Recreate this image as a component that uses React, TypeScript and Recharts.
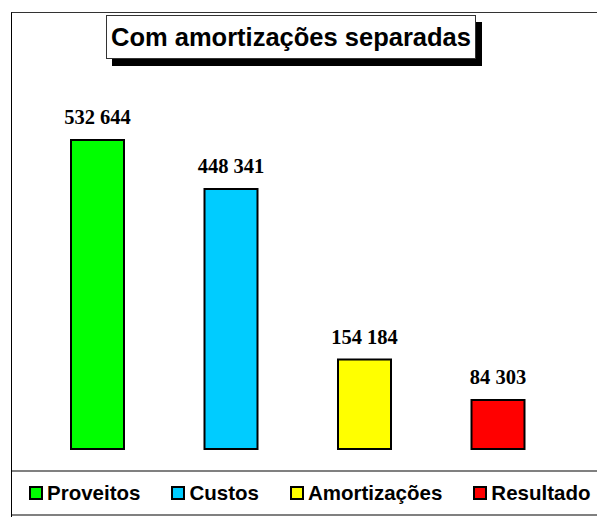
import React from "react";
import { BarChart, Bar, XAxis, YAxis, Cell, LabelList } from "recharts";

const categories = ["Proveitos", "Custos", "Amortizações", "Resultado"];
const values = [532644, 448341, 154184, 84303];
const colors = ["#00FF00", "#00CCFF", "#FFFF00", "#FF0000"];
const valueLabels = ["532 644", "448 341", "154 184", "84 303"];
const title = "Com amortizações separadas";

const data = categories.map((name, i) => ({ name, value: values[i], label: valueLabels[i] }));

export default function App() {
  return (
    <div style={{ position: "absolute", left: 0, top: 0, width: 597, height: 517, background: "#fff", overflow: "hidden" }}>
      {/* frame */}
      <div style={{ position: "absolute", left: 11, top: 12, width: 600, height: 520, borderLeft: "1px solid #000", borderTop: "1px solid #333" }} />
      <div style={{ position: "absolute", left: 12, top: 470, width: 590, height: 0, borderTop: "2px solid #808080" }} />
      <div style={{ position: "absolute", left: 12, top: 514, width: 590, height: 0, borderTop: "2px solid #808080" }} />
      <div style={{ position: "absolute", left: 0, top: 0 }}>
        <BarChart width={597} height={517} data={data} margin={{ top: 101, right: 32, bottom: 68, left: 31 }}>
          <XAxis dataKey="name" hide />
          <YAxis hide domain={[0, 600000]} />
          <Bar dataKey="value" barSize={53} stroke="#000" strokeWidth={2} isAnimationActive={false}>
            {data.map((d, i) => (
              <Cell key={d.name} fill={colors[i]} />
            ))}
            <LabelList
              dataKey="label"
              position="top"
              offset={16}
              style={{ fontFamily: "'Liberation Serif', 'Times New Roman', serif", fontWeight: "bold", fontSize: 20.5, fill: "#000" }}
            />
          </Bar>
        </BarChart>
      </div>
      {/* title */}
      <div
        style={{
          position: "absolute",
          left: 106,
          top: 15,
          width: 368,
          height: 42,
          border: "1px solid #333",
          background: "#fff",
          boxShadow: "6px 7px 0 #000",
          display: "flex",
          alignItems: "center",
          justifyContent: "center",
          fontFamily: "'Liberation Sans', Arial, sans-serif",
          fontWeight: "bold",
          fontSize: 25.5,
          color: "#000",
          whiteSpace: "nowrap",
        }}
      >
        {title}
      </div>
      {/* legend */}
      <div
        style={{
          position: "absolute",
          left: 29,
          top: 472,
          height: 42,
          display: "flex",
          alignItems: "center",
          gap: 31,
          fontFamily: "'Liberation Sans', Arial, sans-serif",
          fontWeight: "bold",
          fontSize: 20.5,
          color: "#000",
          whiteSpace: "nowrap",
        }}
      >
        {categories.map((c, i) => (
          <div key={c} style={{ display: "flex", alignItems: "center" }}>
            <div style={{ width: 10, height: 10, border: "2px solid #000", background: colors[i], marginRight: 4 }} />
            <span>{c}</span>
          </div>
        ))}
      </div>
    </div>
  );
}
